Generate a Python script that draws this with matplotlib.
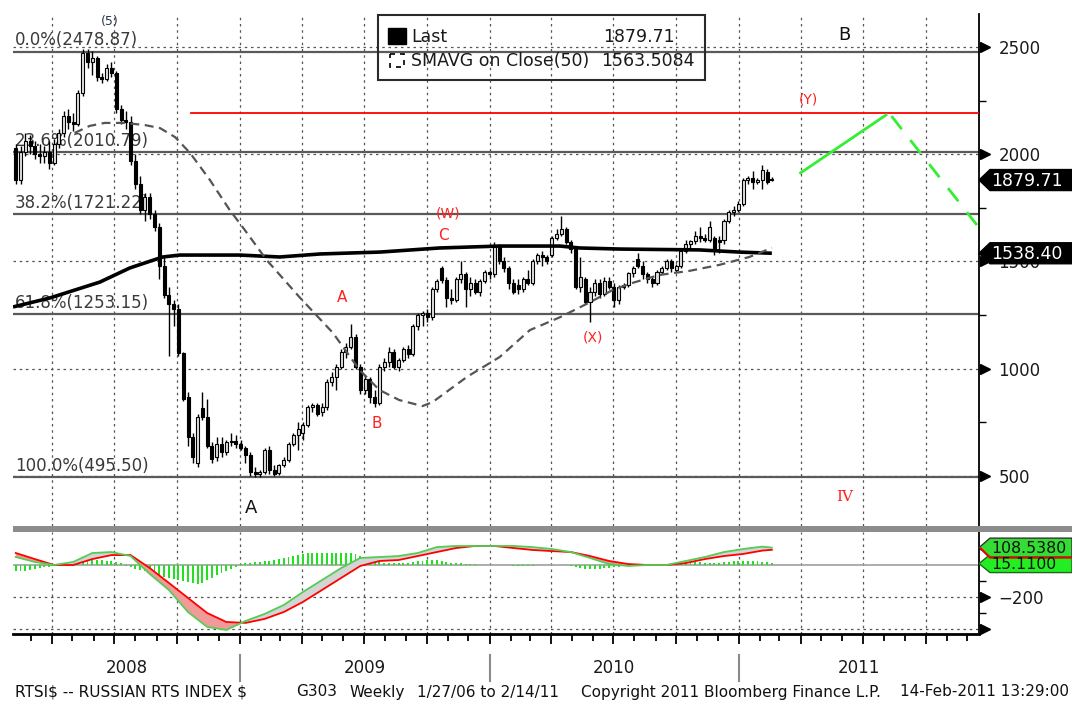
import datetime as dt
import numpy as np
import matplotlib
matplotlib.use("Agg")
import matplotlib.pyplot as plt
import matplotlib.dates as mdates
from matplotlib.patches import Rectangle, Polygon

# ---------------- data ----------------
first_week = dt.date(2008, 2, 8)   # weekly bars (Fridays)
opens = [2030, 1880, 2010, 2060, 2040, 2000, 1990, 2010, 1960, 2050, 2100, 2180, 2150, 2140, 2285, 2470, 2430, 2450, 2360, 2350,
         2400, 2380, 2210, 2160, 2150, 1970, 1860, 1740, 1800, 1720, 1660, 1480, 1345, 1300, 1280, 1075, 870, 680, 560, 815,
         775, 640, 590, 650, 610, 660, 665, 650, 630, 600, 520, 510, 520, 620, 530, 515, 550, 575, 650, 690,
         700, 740, 820, 830, 800, 820, 940, 960, 1010, 1080, 1100, 1150, 1010, 900, 950, 870, 840, 1010, 1030, 1080,
         1010, 1040, 1090, 1070, 1200, 1250, 1260, 1240, 1370, 1470, 1415, 1330, 1320, 1420, 1440, 1370, 1400, 1360, 1410, 1450,
         1440, 1570, 1500, 1470, 1400, 1390, 1370, 1420, 1400, 1500, 1530, 1520, 1530, 1610, 1630, 1650, 1590, 1560, 1380, 1420,
         1310, 1360, 1400, 1350, 1410, 1380, 1320, 1380, 1390, 1445, 1510, 1480, 1440, 1420, 1400, 1450, 1470, 1500, 1460, 1480,
         1550, 1580, 1595, 1620, 1610, 1600, 1610, 1600, 1600, 1690, 1730, 1740, 1770, 1880, 1890, 1870, 1880, 1915, 1885]
highs = [2050, 2040, 2100, 2090, 2060, 2050, 2040, 2060, 2070, 2120, 2200, 2210, 2190, 2300, 2490, 2490, 2480, 2460, 2380, 2420,
         2430, 2390, 2230, 2200, 2180, 2000, 1900, 1820, 1820, 1740, 1680, 1530, 1380, 1320, 1300, 1080, 890, 700, 790, 890,
         860, 660, 680, 680, 670, 700, 690, 670, 640, 610, 540, 530, 630, 640, 550, 555, 590, 660, 700, 750,
         750, 830, 840, 840, 840, 950, 985, 1020, 1090, 1120, 1210, 1160, 1020, 970, 960, 900, 1020, 1050, 1100, 1090,
         1050, 1100, 1110, 1210, 1260, 1270, 1280, 1380, 1420, 1480, 1430, 1370, 1430, 1500, 1450, 1430, 1420, 1420, 1460, 1460,
         1590, 1580, 1520, 1480, 1420, 1420, 1430, 1460, 1510, 1540, 1550, 1530, 1620, 1650, 1710, 1660, 1600, 1570, 1520, 1430,
         1380, 1420, 1420, 1430, 1430, 1400, 1390, 1400, 1450, 1480, 1540, 1500, 1450, 1430, 1460, 1480, 1510, 1510, 1490, 1560,
         1600, 1600, 1640, 1660, 1630, 1690, 1620, 1620, 1700, 1740, 1760, 1780, 1890, 1900, 1920, 1890, 1950, 1930, 1895]
lows = [1860, 1860, 1990, 2000, 1980, 1960, 1960, 1930, 1950, 2030, 2080, 2120, 2110, 2130, 2270, 2400, 2370, 2340, 2330, 2340,
        2360, 2190, 2140, 2120, 1950, 1840, 1720, 1690, 1700, 1640, 1420, 1330, 1060, 1200, 1060, 850, 640, 560, 540, 760,
        630, 560, 570, 590, 600, 640, 630, 620, 560, 500, 495, 496, 510, 510, 498, 505, 540, 565, 640, 620,
        670, 730, 800, 780, 780, 810, 920, 900, 1000, 1050, 1090, 1000, 880, 880, 840, 820, 830, 990, 1010, 1000,
        990, 1030, 1050, 1060, 1180, 1200, 1220, 1225, 1360, 1400, 1290, 1300, 1310, 1400, 1290, 1340, 1350, 1340, 1400, 1420,
        1430, 1490, 1450, 1370, 1350, 1350, 1360, 1390, 1390, 1490, 1480, 1490, 1520, 1600, 1620, 1580, 1540, 1370, 1360, 1300,
        1220, 1340, 1330, 1340, 1370, 1290, 1300, 1370, 1380, 1430, 1470, 1420, 1400, 1380, 1390, 1440, 1460, 1450, 1450, 1470,
        1540, 1560, 1580, 1590, 1590, 1590, 1530, 1540, 1580, 1680, 1710, 1730, 1760, 1860, 1840, 1860, 1840, 1860, 1875]
closes = [1880, 2010, 2060, 2040, 2000, 1990, 2010, 1960, 2050, 2100, 2180, 2150, 2140, 2285, 2470, 2430, 2450, 2360, 2350, 2400,
          2380, 2210, 2160, 2150, 1970, 1860, 1740, 1800, 1720, 1660, 1480, 1345, 1300, 1280, 1075, 860, 680, 590, 775, 775,
          640, 580, 650, 610, 660, 665, 650, 630, 600, 520, 510, 520, 620, 530, 510, 550, 575, 650, 690, 720,
          740, 820, 830, 790, 820, 940, 960, 1010, 1080, 1100, 1150, 1010, 900, 950, 870, 840, 1010, 1030, 1080, 1010,
          1040, 1090, 1070, 1200, 1250, 1260, 1240, 1370, 1410, 1415, 1330, 1320, 1420, 1440, 1370, 1400, 1360, 1410, 1450, 1440,
          1570, 1500, 1470, 1400, 1360, 1370, 1420, 1400, 1500, 1530, 1520, 1500, 1610, 1630, 1650, 1590, 1560, 1380, 1430, 1310,
          1360, 1400, 1350, 1410, 1380, 1320, 1380, 1390, 1445, 1470, 1480, 1440, 1420, 1400, 1450, 1470, 1500, 1470, 1480, 1550,
          1580, 1595, 1620, 1610, 1600, 1660, 1560, 1590, 1690, 1730, 1740, 1770, 1880, 1890, 1870, 1880, 1925, 1870, 1879.71]

# SMAVG on Close(50) (dashed) and long average (solid), read at dates
sma50_dates = ["2008-05-04", "2008-05-26", "2008-06-17", "2008-07-16", "2008-08-15", "2008-09-06", "2008-09-28",
               "2008-10-20", "2008-11-18", "2008-12-17", "2009-01-08", "2009-02-09", "2009-03-29", "2009-05-17",
               "2009-06-25", "2009-07-24", "2009-08-22", "2009-09-25", "2009-10-10", "2009-11-29", "2010-01-16",
               "2010-03-01", "2010-04-14", "2010-05-28", "2010-06-30", "2010-07-29", "2010-09-06", "2010-10-20",
               "2010-12-03", "2011-01-16", "2011-02-18"]
sma50_vals = [2099, 2132, 2146, 2146, 2136, 2122, 2080, 2006, 1880, 1740, 1647, 1507, 1334, 1167, 994, 901, 854, 826,
              845, 962, 1055, 1180, 1240, 1310, 1367, 1400, 1437, 1456, 1484, 1521, 1563.5084]
long_ma_dates = ["2008-02-04", "2008-03-29", "2008-06-10", "2008-07-24", "2008-09-10", "2008-10-05", "2009-01-01",
                 "2009-02-28", "2009-04-28", "2009-07-25", "2009-10-20", "2010-01-16", "2010-04-14", "2010-05-13",
                 "2010-07-11", "2010-11-04", "2011-01-01", "2011-02-18"]
long_ma_vals = [1288, 1330, 1404, 1470, 1521, 1530, 1530, 1521, 1535, 1544, 1563, 1572, 1572, 1563, 1558, 1554, 1544, 1538.40]

fib_levels = [2478.87, 2010.79, 1721.22, 1253.15, 495.50]
fib_labels = ["0.0%(2478.87)", "23.6%(2010.79)", "38.2%(1721.22)", "61.8%(1253.15)", "100.0%(495.50)"]
target_level = 2190
target_start = "2008-10-22"
proj_solid_dates = ["2011-04-01", "2011-08-04"]
proj_solid_vals = [1913, 2183]
proj_dash_dates = ["2011-08-12", "2011-12-15"]
proj_dash_vals = [2178, 1670]

wave_labels = [("(5)", "2008-06-24", 2617, "#2b3550", 9, "sans-serif"),
               ("B", "2011-06-04", 2556, "#111111", 13, "sans-serif"),
               ("(Y)", "2011-04-12", 2253, "#ff2020", 10, "sans-serif"),
               ("(W)", "2009-11-01", 1726, "#ff2020", 10, "sans-serif"),
               ("C", "2009-10-25", 1619, "#ff2020", 11, "sans-serif"),
               ("A", "2009-05-31", 1334, "#ff2020", 11, "sans-serif"),
               ("B", "2009-07-20", 747, "#ff2020", 11, "sans-serif"),
               ("(X)", "2010-06-01", 1148, "#ff2020", 10, "sans-serif"),
               ("A", "2009-01-17", 351, "#111111", 13, "sans-serif"),
               ("IV", "2011-06-05", 402, "#ff2020", 11, "serif")]

# MACD panel: lines sampled every 4 weeks (+ last bar), histogram weekly
macd_idx = list(range(0, 157, 4)) + [158]
signal_vals = [75, 37, 0, 0, 37, 62, 62, -19, -112, -206, -300, -356, -362, -337, -294, -231, -156, -81, -6, 25,
               31, 56, 81, 106, 119, 119, 106, 94, 87, 81, 56, 25, 6, 0, 0, 12, 37, 56, 69, 90, 95]
macd_vals = [50, 19, 0, 19, 75, 81, 56, -56, -156, -294, -387, -406, -350, -306, -250, -169, -94, -19, 44, 50,
             56, 75, 112, 119, 119, 119, 119, 112, 100, 81, 44, 6, -6, 0, 0, 25, 50, 81, 100, 115, 108.538]
hist_vals = [-35, -40, -38, -30, -25, -20, -15, -10, -5, 0, 5, 10, 15, 22, 28, 32, 34, 33, 30, 27,
             24, 20, 10, -8, -15, -22, -30, -40, -50, -57, -65, -72, -80, -88, -95, -100, -107, -113, -116, -110,
             -95, -80, -65, -50, -38, -25, -12, 5, 10, 14, 17, 20, 24, 28, 33, 38, 44, 50, 55, 62,
             68, 72, 75, 76, 76, 76, 76, 76, 76, 75, 74, 70, 58, 45, 30, 22, 18, 15, 15, 14,
             12, 10, 15, 20, 25, 28, 32, 34, 32, 25, 20, 15, 12, 10, 8, 6, 4, 0, 0, 0,
             0, 0, 0, -3, -5, -7, -8, -7, -5, -2, 0, 0, 2, 3, 2, 0, -5, -12, -18, -22,
             -25, -24, -22, -20, -18, -15, -12, -8, -5, -3, 0, 0, 0, 0, 0, 0, 0, 0, 3, 8,
             12, 15, 16, 16, 14, 12, 10, 12, 16, 20, 24, 26, 28, 28, 27, 24, 20, 17, 15.11]

year_labels = ["2008", "2009", "2010", "2011"]
footer_parts = [("RTSI$ -- RUSSIAN RTS INDEX $", 15), ("G303", 296), ("Weekly", 350),
                ("1/27/06 to 2/14/11", 417), ("Copyright 2011 Bloomberg Finance L.P.", 581)]
footer_right = "14-Feb-2011 13:29:00"

# ---------------- figure ----------------
W, H = 1072, 704
plt.rcParams['font.family'] = ['DejaVu Sans']
fig = plt.figure(figsize=(W / 100, H / 100), dpi=100)
fig.patch.set_facecolor('white')

ax = fig.add_axes([13 / W, 1 - 526 / H, 966 / W, 512 / H])
ax2 = fig.add_axes([13 / W, 1 - 634 / H, 966 / W, 102 / H])

dates = [first_week + dt.timedelta(weeks=i) for i in range(len(closes))]
d = mdates.date2num(dates)
O, Hh, L, C = map(np.array, (opens, highs, lows, closes))
xmin = mdates.date2num(dt.date(2008, 2, 4))
xmax = mdates.date2num(dt.date(2011, 12, 18))
for a in (ax, ax2):
    a.set_xlim(xmin, xmax)
    a.set_facecolor('none')
ax.set_ylim(266.9, 2653.8)
ax2.set_ylim(-431.25, 206.25)

grid_kw = dict(color='#555555', lw=0.9, linestyle=(0, (2, 3)), zorder=1)
quarters = [dt.date(y, m, 1) for y in (2008, 2009, 2010, 2011) for m in (1, 4, 7, 10)]
quarters = [q for q in quarters if q > dt.date(2008, 2, 4)]
for q in quarters:
    ax.axvline(mdates.date2num(q), **grid_kw)
    ax2.axvline(mdates.date2num(q), **grid_kw)
for lv in [500, 1000, 1500, 2000, 2500]:
    ax.axhline(lv, **grid_kw)
for lv in [-200, -400]:
    ax2.axhline(lv, **grid_kw)
ax2.axhline(0, color='#a0a0a0', lw=1.2, zorder=1)

# Fibonacci levels
for lv, lab in zip(fib_levels, fib_labels):
    ax.axhline(lv, color='#5a5a5a', lw=1.6, zorder=2)
    ax.annotate(lab, xy=(0.002, lv), xycoords=('axes fraction', 'data'), xytext=(0, 8),
                textcoords='offset points', va='center', ha='left', fontsize=12, color='#3a3a3a', zorder=3)

# target line and projection
ax.plot([mdates.date2num(dt.date.fromisoformat(target_start)), xmax], [target_level] * 2,
        color='#ff0000', lw=1.3, zorder=3)
ax.plot(mdates.datestr2num(proj_solid_dates), proj_solid_vals, color='#33ee33', lw=2, zorder=3)
ax.plot(mdates.datestr2num(proj_dash_dates), proj_dash_vals, color='#33ee33', lw=2,
        dashes=(6, 5), zorder=3)

# moving averages
ax.plot(mdates.datestr2num(long_ma_dates), long_ma_vals, color='black', lw=2.6, zorder=6,
        solid_capstyle='butt')
ax.plot(mdates.datestr2num(sma50_dates), sma50_vals, color='#555555', lw=1.6, dashes=(4, 2.5), zorder=6)

# candles
up = C >= O
body_lo = np.minimum(O, C)
body_h = np.maximum(np.abs(C - O), 5)
ax.vlines(d, L, Hh, color='black', lw=1.0, zorder=4)
ax.bar(d[up], body_h[up], bottom=body_lo[up], width=4.4, facecolor='#e2e2e2', edgecolor='black',
       lw=0.8, zorder=5)
ax.bar(d[~up], body_h[~up], bottom=body_lo[~up], width=4.4, facecolor='black', edgecolor='black',
       lw=0.8, zorder=5)

# wave labels
for txt, ds, val, col, fs, fam in wave_labels:
    ax.text(mdates.datestr2num(ds), val, txt, color=col, fontsize=fs, family=fam, ha='center', va='center',
            zorder=7)

# MACD panel
md = d[macd_idx]
sig = np.array(signal_vals, float)
mac = np.array(macd_vals, float)
ax2.bar(d, hist_vals, width=2.8, color='#22e022', zorder=2)
ax2.fill_between(md, mac, sig, where=mac < sig, interpolate=True, color='#f29a9a', zorder=3, lw=0)
ax2.fill_between(md, mac, sig, where=mac >= sig, interpolate=True, color='#d4d4d4', zorder=3, lw=0)
ax2.plot(md, sig, color='#ff0000', lw=1.3, zorder=4)
ax2.plot(md, mac, color='#55cc55', lw=1.3, zorder=5)

# spines / ticks
for a in (ax, ax2):
    for s in ('left', 'top'):
        a.spines[s].set_visible(False)
    a.spines['right'].set_color('black')
    a.spines['right'].set_linewidth(1.3)
    a.yaxis.tick_right()
ax.spines['bottom'].set_visible(False)
ax.tick_params(axis='x', which='both', bottom=False, labelbottom=False)
ax.set_yticks([500, 1000, 1500, 2000, 2500])
ax.set_yticks([750, 1250, 1750, 2250], minor=True)
ax.tick_params(axis='y', which='major', length=0, pad=14, labelsize=12, labelcolor='#1a1a1a')
ax.tick_params(axis='y', which='minor', length=5, width=1, direction='out')
ax.plot([1.006] * 5, [500, 1000, 1500, 2000, 2500], transform=ax.get_yaxis_transform(), marker='>',
        ms=7, color='black', ls='none', clip_on=False)

ax2.spines['bottom'].set_linewidth(2)
ax2.set_yticks([-200])
ax2.set_yticks([100, -100, -300], minor=True)
ax2.tick_params(axis='y', which='major', length=0, pad=14, labelsize=12, labelcolor='#1a1a1a')
ax2.tick_params(axis='y', which='minor', length=5, width=1, direction='out')
ax2.plot([1.006] * 2, [-200, -400], transform=ax2.get_yaxis_transform(), marker='>', ms=7,
         color='black', ls='none', clip_on=False)
ax2.set_xticks(mdates.date2num(quarters))
months = [dt.date(y, m, 1) for y in (2008, 2009, 2010, 2011) for m in range(1, 13)]
months = [mo for mo in months if dt.date(2008, 2, 4) < mo < dt.date(2011, 12, 18)]
ax2.set_xticks(mdates.date2num(months), minor=True)
ax2.tick_params(axis='x', which='major', length=7, width=1.3, direction='out', labelbottom=False)
ax2.tick_params(axis='x', which='minor', length=5, width=1.3, direction='out')

# ---------------- overlay (pixel coordinates) ----------------
ov = fig.add_axes([0, 0, 1, 1], zorder=10)
ov.set_xlim(0, W)
ov.set_ylim(H, 0)
ov.axis('off')
ov.patch.set_alpha(0)


def ypix(a, v):
    return H - a.transData.transform((xmin, v))[1]


# separator between panels
ov.add_patch(Rectangle((13, 526), W - 13, 6, facecolor='#8c8c8c', edgecolor='none'))

# legend box
ov.add_patch(Rectangle((378, 15), 327, 65, facecolor='none', edgecolor='#2a2a2a', lw=1.5))
ov.add_patch(Rectangle((388, 28), 18, 16, facecolor='black', edgecolor='black'))
ov.add_patch(Rectangle((390, 54), 14, 13, facecolor='none', edgecolor='black', lw=1.2, linestyle=(0, (3, 3))))
ov.text(411, 37, "Last", fontsize=12.5, va='center', ha='left', color='#1a1a1a')
ov.text(675, 37, f"{closes[-1]:.2f}", fontsize=12.5, va='center', ha='right', color='#1a1a1a')
ov.text(411, 61, "SMAVG on Close(50)", fontsize=12.5, va='center', ha='left', color='#1a1a1a')
ov.text(695, 61, f"{sma50_vals[-1]:.4f}", fontsize=12.5, va='center', ha='right', color='#1a1a1a')


def tag(yc, text, face, tcolor, half=10.5, edge=None, fs=12.5):
    pts = [(979, yc), (990, yc - half), (W, yc - half), (W, yc + half), (990, yc + half)]
    ov.add_patch(Polygon(pts, closed=True, facecolor=face, edgecolor=edge if edge else face, lw=1))
    ov.text(991, yc + 0.5, text, fontsize=fs, color=tcolor, va='center', ha='left')


tag(ypix(ax, closes[-1]), f"{closes[-1]:.2f}", 'black', 'white')
tag(ypix(ax, long_ma_vals[-1]), f"{long_ma_vals[-1]:.2f}", 'black', 'white')
yh = ypix(ax2, hist_vals[-1])
ym = ypix(ax2, macd_vals[-1])
tag(yh + 1, f"{hist_vals[-1]:.4f}", '#22ee22', '#111111', half=9, edge='#226622', fs=11.3)
tag(ym, f"{macd_vals[-1]:.4f}", '#33dd33', '#111111', half=9.5, edge='#333333', fs=11.3)
ov.plot([981, 990, W], [ym + 1, ym + 10, ym + 10], color='#ee0000', lw=1.5)

# year labels and separators
years = [dt.date(2009, 1, 1), dt.date(2010, 1, 1), dt.date(2011, 1, 1)]
ysep = [ax.transData.transform((mdates.date2num(y), 0))[0] for y in years]
for xs in ysep:
    ov.plot([xs, xs], [655, 681], color='#8a8a8a', lw=1.5)
bounds = [13] + ysep + [979]
for lab, a0, a1 in zip(year_labels, bounds[:-1], bounds[1:]):
    ov.text((a0 + a1) / 2, 668, lab, fontsize=12, ha='center', va='center', color='#1a1a1a')

# footer
for txt, x0 in footer_parts:
    ov.text(x0, 692, txt, fontsize=11, ha='left', va='center', color='#111111', parse_math=False)
ov.text(1069, 692, footer_right, fontsize=11, ha='right', va='center', color='#111111', parse_math=False)

fig.savefig("out.png", dpi=100, facecolor='white')
